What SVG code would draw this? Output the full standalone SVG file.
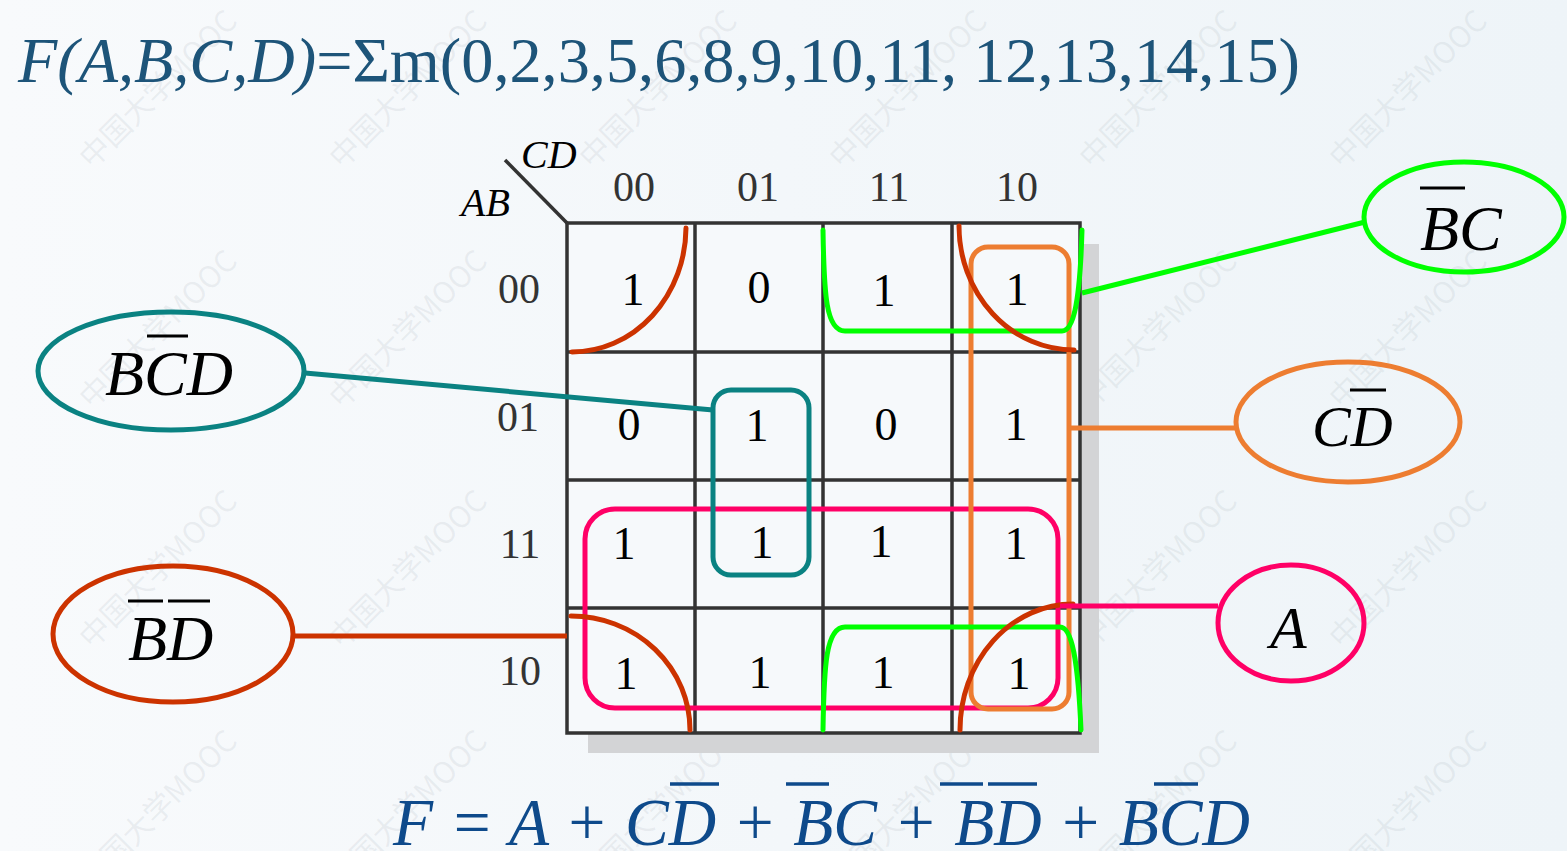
<svg xmlns="http://www.w3.org/2000/svg" width="1567" height="851" viewBox="0 0 1567 851">
<style>
.wm{font-family:"Noto Sans CJK SC","Noto Sans",sans-serif;font-size:30px;fill:#8c96a0;fill-opacity:0.13}
.grid{fill:none;stroke:#333333;stroke-width:3.5}
.hdr{font-family:"Liberation Serif",serif;font-size:42px;fill:#333333;text-anchor:middle}
.cell{font-family:"Liberation Serif",serif;font-size:46px;fill:#000000;text-anchor:middle}
.lab{font-family:"Liberation Serif",serif;font-style:italic;fill:#000000}
.ov{stroke:#000000;stroke-width:3}
.fov{stroke:#0e4a8b;stroke-width:3.5}
.grp{fill:none;stroke-width:5;stroke-linecap:round;stroke-linejoin:round}
.pink{stroke:#ff0066}
.orange{stroke:#ed7d31}
.teal{stroke:#0a8282}
.green{stroke:#00ff00}
.red{stroke:#cc3300}
</style>
<defs>
<linearGradient id="bg" x1="0" y1="0" x2="1" y2="0">
<stop offset="0" stop-color="#f8fafc"/>
<stop offset="1" stop-color="#eef4f8"/>
</linearGradient>
</defs>
<rect x="0" y="0" width="1567" height="851" fill="url(#bg)"/>
<g id="watermark">
<text class="wm" transform="translate(92,170) rotate(-45)">中国大学MOOC</text>
<text class="wm" transform="translate(342,170) rotate(-45)">中国大学MOOC</text>
<text class="wm" transform="translate(592,170) rotate(-45)">中国大学MOOC</text>
<text class="wm" transform="translate(842,170) rotate(-45)">中国大学MOOC</text>
<text class="wm" transform="translate(1092,170) rotate(-45)">中国大学MOOC</text>
<text class="wm" transform="translate(1342,170) rotate(-45)">中国大学MOOC</text>
<text class="wm" transform="translate(92,410) rotate(-45)">中国大学MOOC</text>
<text class="wm" transform="translate(342,410) rotate(-45)">中国大学MOOC</text>
<text class="wm" transform="translate(592,410) rotate(-45)">中国大学MOOC</text>
<text class="wm" transform="translate(842,410) rotate(-45)">中国大学MOOC</text>
<text class="wm" transform="translate(1092,410) rotate(-45)">中国大学MOOC</text>
<text class="wm" transform="translate(1342,410) rotate(-45)">中国大学MOOC</text>
<text class="wm" transform="translate(92,650) rotate(-45)">中国大学MOOC</text>
<text class="wm" transform="translate(342,650) rotate(-45)">中国大学MOOC</text>
<text class="wm" transform="translate(592,650) rotate(-45)">中国大学MOOC</text>
<text class="wm" transform="translate(842,650) rotate(-45)">中国大学MOOC</text>
<text class="wm" transform="translate(1092,650) rotate(-45)">中国大学MOOC</text>
<text class="wm" transform="translate(1342,650) rotate(-45)">中国大学MOOC</text>
<text class="wm" transform="translate(92,890) rotate(-45)">中国大学MOOC</text>
<text class="wm" transform="translate(342,890) rotate(-45)">中国大学MOOC</text>
<text class="wm" transform="translate(592,890) rotate(-45)">中国大学MOOC</text>
<text class="wm" transform="translate(842,890) rotate(-45)">中国大学MOOC</text>
<text class="wm" transform="translate(1092,890) rotate(-45)">中国大学MOOC</text>
<text class="wm" transform="translate(1342,890) rotate(-45)">中国大学MOOC</text>
</g>
<g id="title">
<text x="18" y="82" font-family="'Liberation Serif',serif" font-size="64" fill="#1d5479" textLength="1282" lengthAdjust="spacingAndGlyphs"><tspan font-style="italic">F(A,B,C,D)</tspan>=Σm(0,2,3,5,6,8,9,10,11, 12,13,14,15)</text>
</g>
<g id="kmap">
<rect x="588" y="244" width="511" height="509" fill="#d3d4d6"/>
<rect x="567" y="223" width="513" height="510" fill="#f6f9fb"/>
<path class="grid" d="M567,223H1080V733H567Z M695,223V733 M823,223V733 M952,223V733 M567,352H1080 M567,480H1080 M567,608H1080"/>
<line x1="505" y1="160" x2="567" y2="223" stroke="#333333" stroke-width="3.5"/>
<text class="lab" x="521" y="168" font-size="40" fill="#333333">CD</text>
<text class="lab" x="461" y="216" font-size="40" fill="#333333">AB</text>
<text class="hdr" x="634" y="201">00</text>
<text class="hdr" x="758" y="201">01</text>
<text class="hdr" x="889" y="201">11</text>
<text class="hdr" x="1017" y="201">10</text>
<text class="hdr" x="519" y="303">00</text>
<text class="hdr" x="518" y="431">01</text>
<text class="hdr" x="520" y="558">11</text>
<text class="hdr" x="520" y="685">10</text>
<text class="cell" x="633" y="305">1</text>
<text class="cell" x="759" y="303">0</text>
<text class="cell" x="884" y="306">1</text>
<text class="cell" x="1017" y="305">1</text>
<text class="cell" x="629" y="440">0</text>
<text class="cell" x="757" y="441">1</text>
<text class="cell" x="886" y="440">0</text>
<text class="cell" x="1016" y="440">1</text>
<text class="cell" x="624" y="559">1</text>
<text class="cell" x="762" y="558">1</text>
<text class="cell" x="881" y="557">1</text>
<text class="cell" x="1016" y="559">1</text>
<text class="cell" x="626" y="689">1</text>
<text class="cell" x="760" y="688">1</text>
<text class="cell" x="883" y="688">1</text>
<text class="cell" x="1019" y="689">1</text>
</g>
<g id="loops">
<rect class="grp pink" x="585" y="509" width="473" height="199" rx="30"/>
<rect class="grp orange" x="971" y="247" width="98" height="462" rx="17"/>
<rect class="grp teal" x="713" y="390" width="96" height="185" rx="18"/>
<path class="grp green" d="M823,230 C824,295 826,331 845,331 L1062,331 C1074,331 1080,300 1082,230"/>
<path class="grp green" d="M823,730 C824,665 826,627 845,627 L1060,627 C1072,627 1078,660 1081,730"/>
<path class="grp red" d="M686,228 A114,125 0 0 1 572,352"/>
<path class="grp red" d="M959,226 A115,124 0 0 0 1074,350"/>
<path class="grp red" d="M571,616 A119,114 0 0 1 690,730"/>
<path class="grp red" d="M1073,604 A113,126 0 0 0 960,730"/>
</g>
<g id="connectors" fill="none" stroke-width="5">
<line x1="1060" y1="606" x2="1218" y2="606" stroke="#ff0066"/>
<line x1="1069" y1="428" x2="1237" y2="428" stroke="#ed7d31"/>
<line x1="305" y1="373" x2="713" y2="410" stroke="#0a8282"/>
<line x1="1082" y1="293" x2="1365" y2="222" stroke="#00ff00"/>
<line x1="295" y1="636" x2="567" y2="636" stroke="#cc3300"/>
</g>
<g id="node-BCbarD">
<ellipse cx="171" cy="371" rx="133" ry="59" fill="none" stroke="#0a8282" stroke-width="5"/>
<text class="lab" x="105" y="395" font-size="64">BCD</text>
<line class="ov" x1="147" y1="336" x2="188" y2="336"/>
</g>
<g id="node-BbarDbar">
<ellipse cx="173" cy="634" rx="120" ry="68" fill="none" stroke="#cc3300" stroke-width="5"/>
<text class="lab" x="128" y="660" font-size="64">BD</text>
<line class="ov" x1="128" y1="601" x2="163" y2="601"/>
<line class="ov" x1="168" y1="601" x2="210" y2="601"/>
</g>
<g id="node-BbarC">
<ellipse cx="1464" cy="217" rx="100" ry="55" fill="none" stroke="#00ff00" stroke-width="5"/>
<text class="lab" x="1420" y="250" font-size="64">BC</text>
<line class="ov" x1="1420" y1="188" x2="1465" y2="188"/>
</g>
<g id="node-CDbar">
<ellipse cx="1348" cy="422" rx="112" ry="60" fill="none" stroke="#ed7d31" stroke-width="5"/>
<text class="lab" x="1312" y="446" font-size="58">CD</text>
<line class="ov" x1="1350" y1="390" x2="1386" y2="390"/>
</g>
<g id="node-A">
<ellipse cx="1291" cy="623" rx="73" ry="58" fill="none" stroke="#ff0066" stroke-width="5"/>
<text class="lab" x="1270" y="648" font-size="60">A</text>
</g>
<g id="formula">
<text x="393" y="845" font-family="'Liberation Serif',serif" font-style="italic" font-size="68" fill="#0e4a8b" textLength="857" lengthAdjust="spacingAndGlyphs">F = A + CD + BC + BD + BCD</text>
<line class="fov" x1="670" y1="784" x2="719" y2="784"/>
<line class="fov" x1="786" y1="784" x2="829" y2="784"/>
<line class="fov" x1="940" y1="784" x2="983" y2="784"/>
<line class="fov" x1="988" y1="784" x2="1037" y2="784"/>
<line class="fov" x1="1154" y1="784" x2="1198" y2="784"/>
</g>
</svg>
